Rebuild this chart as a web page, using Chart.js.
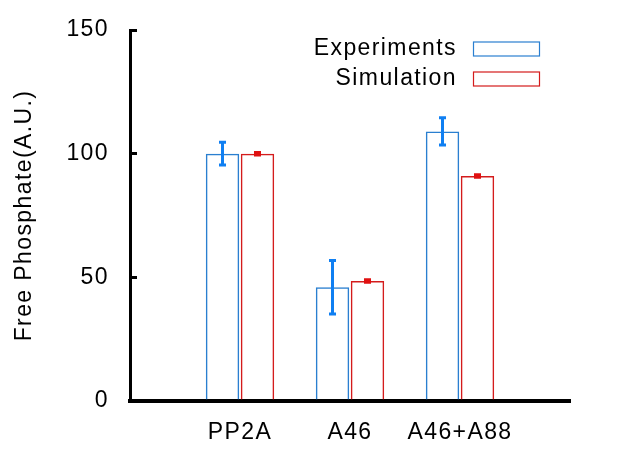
<!DOCTYPE html>
<html>
<head>
<meta charset="utf-8">
<script src="https://cdn.jsdelivr.net/npm/chart.js@4.4.1/dist/chart.umd.min.js"></script>
<style>
html,body{margin:0;padding:0;background:#fff;}
#wrap{width:617px;height:462px;position:relative;}
</style>
</head>
<body>
<div id="wrap"><canvas id="c" width="617" height="462"></canvas></div>
<script>
const categories = ['PP2A', 'A46', 'A46+A88'];
const experiments = [100, 46, 109];
const experimentsErr = [4.6, 10.8, 5.5];
const simulation = [100, 48.5, 91];
const simulationErr = [0.5, 0.5, 0.5];
const yTicks = [0, 50, 100, 150];
const yTitle = 'Free Phosphate(A.U.)';

const FONT = '"Liberation Sans", Arial, Helvetica, sans-serif';
const FSIZE = 23;
const pad = a => [null, ...a, null];
const labels = ['', ...categories, ''];

const spacing = {
  id: 'spacing',
  beforeDraw(chart) { chart.ctx.letterSpacing = '1.4px'; }
};

const errorBars = {
  id: 'errorBars',
  afterDatasetsDraw(chart) {
    const ctx = chart.ctx;
    const y = chart.scales.y;
    chart.data.datasets.forEach((ds, di) => {
      const meta = chart.getDatasetMeta(di);
      meta.data.forEach((bar, i) => {
        const v = ds.data[i];
        const e = ds.errors[i];
        if (v == null || e == null) return;
        const yt = y.getPixelForValue(v + e);
        const yb = y.getPixelForValue(v - e);
        ctx.save();
        ctx.strokeStyle = ds.errColor;
        ctx.lineWidth = 3;
        ctx.beginPath();
        ctx.moveTo(bar.x, yt);
        ctx.lineTo(bar.x, yb);
        ctx.stroke();
        ctx.beginPath();
        ctx.moveTo(bar.x - 3.5, yt); ctx.lineTo(bar.x + 3.5, yt);
        ctx.moveTo(bar.x - 3.5, yb); ctx.lineTo(bar.x + 3.5, yb);
        ctx.stroke();
        ctx.restore();
      });
    });
  }
};

const extras = {
  id: 'extras',
  afterDraw(chart) {
    const ctx = chart.ctx;
    const ca = chart.chartArea;
    ctx.save();
    ctx.fillStyle = '#000';
    ctx.font = FSIZE + 'px ' + FONT;
    ctx.translate(25, (ca.top + ca.bottom) / 2);
    ctx.rotate(-Math.PI / 2);
    ctx.textAlign = 'center';
    ctx.textBaseline = 'middle';
    ctx.fillText(yTitle, 0, 0);
    ctx.restore();
    ctx.save();
    ctx.font = FSIZE + 'px ' + FONT;
    ctx.textAlign = 'right';
    ctx.textBaseline = 'middle';
    chart.data.datasets.forEach((ds, i) => {
      const cy = 49 + i * 30;
      ctx.fillStyle = '#000';
      ctx.fillText(ds.label, 457, cy);
      ctx.strokeStyle = ds.borderColor;
      ctx.lineWidth = 1.2;
      ctx.strokeRect(473.5, cy - 7, 66, 14);
    });
    ctx.restore();
  }
};

new Chart(document.getElementById('c'), {
  type: 'bar',
  data: {
    labels: labels,
    datasets: [
      {
        label: 'Experiments',
        data: pad(experiments),
        errors: pad(experimentsErr),
        errColor: '#0f7ff2',
        borderColor: '#2a7fd0',
        backgroundColor: 'rgba(255,255,255,0)',
        borderWidth: 1.5,
        borderSkipped: 'start'
      },
      {
        label: 'Simulation',
        data: pad(simulation),
        errors: pad(simulationErr),
        errColor: '#e01010',
        borderColor: '#d41c1c',
        backgroundColor: 'rgba(255,255,255,0)',
        borderWidth: 1.5,
        borderSkipped: 'start'
      }
    ]
  },
  options: {
    responsive: false,
    devicePixelRatio: 1,
    animation: false,
    categoryPercentage: 0.636,
    barPercentage: 0.955,
    layout: { padding: { left: 0, top: 30, right: 47, bottom: 0 } },
    plugins: { legend: { display: false }, tooltip: { enabled: false } },
    scales: {
      x: {
        offset: false,
        grid: { display: false },
        border: { display: true, color: '#000', width: 4 },
        ticks: {
          color: '#000',
          font: { family: FONT, size: FSIZE },
          padding: 10,
          maxRotation: 0,
          autoSkip: false
        },
        afterFit(s) { s.height = 61; s.paddingLeft = 0; s.paddingRight = 0; }
      },
      y: {
        min: 0,
        max: 150,
        afterBuildTicks(s) { s.ticks = yTicks.map(v => ({ value: v })); },
        grid: {
          drawOnChartArea: false,
          tickLength: -7,
          lineWidth: 3,
          color: '#000'
        },
        border: { display: true, color: '#000', width: 3 },
        ticks: {
          color: '#000',
          font: { family: FONT, size: FSIZE },
          padding: 28
        },
        afterFit(s) { s.width = 130; s.paddingTop = 0; s.paddingBottom = 0; }
      }
    }
  },
  plugins: [spacing, errorBars, extras]
});
</script>
</body>
</html>
